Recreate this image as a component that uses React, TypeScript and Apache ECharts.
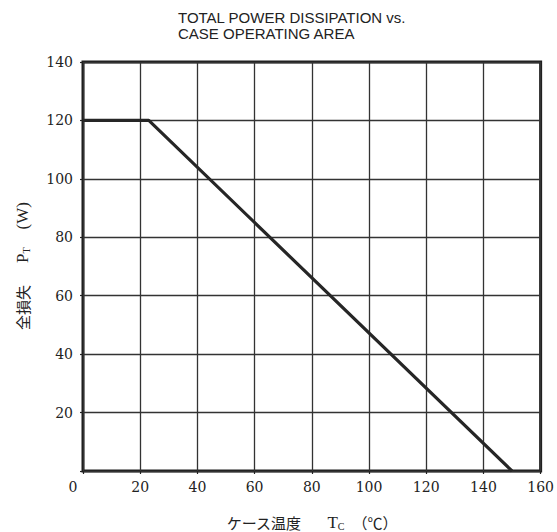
import React, { useEffect, useRef } from "react";
import * as echarts from "echarts";

const titleLines = ["TOTAL POWER DISSIPATION vs.", "CASE OPERATING AREA"];
const caseTempC = [0, 23, 150];
const powerW = [120, 120, 0];
const xTickValues = [0, 20, 40, 60, 80, 100, 120, 140, 160];
const yTickValues = [0, 20, 40, 60, 80, 100, 120, 140];

const SERIF = "DejaVu Serif";
const LSERIF = "Liberation Serif";
const CJK = "Noto Sans CJK JP";
const INK = "#222";

export default function App() {
  const ref = useRef<HTMLDivElement>(null);
  useEffect(() => {
    if (!ref.current) return;
    const chart = echarts.init(ref.current, null, { renderer: "svg" });
    const grid = { left: 83, top: 62, width: 460, height: 409 };
    const nameRich = {
      j: { fontFamily: CJK, fontSize: 15, fill: INK, color: INK, fontWeight: "normal" },
      p: { fontFamily: LSERIF, fontSize: 17, fill: INK, color: INK, padding: [0, 0, 0, 22] },
      s: { fontFamily: LSERIF, fontSize: 10, fill: INK, color: INK, padding: [8, 0, 0, 0] },
      w: { fontFamily: LSERIF, fontSize: 17, fill: INK, color: INK, padding: [0, 0, 0, 18] },
      c: { fontFamily: CJK, fontSize: 15, fill: INK, color: INK, fontWeight: "normal", padding: [0, 0, 0, 8] },
    };
    chart.setOption({
      animation: false,
      backgroundColor: "#fff",
      title: {
        text: titleLines.join("\n"),
        left: 173,
        top: 4,
        textStyle: {
          fontFamily: "Liberation Sans",
          fontSize: 15,
          fontWeight: "normal",
          color: INK,
          lineHeight: 16,
        },
      },
      grid: { ...grid, show: true, borderWidth: 3, borderColor: "#1e1e1e", containLabel: false },
      xAxis: {
        type: "value",
        min: xTickValues[0],
        max: xTickValues[xTickValues.length - 1],
        interval: 20,
        axisLine: { show: false },
        axisTick: { show: true, inside: false, length: 3, lineStyle: { color: INK, width: 1.2 } },
        splitLine: { show: true, lineStyle: { color: "#333", width: 1.3 } },
        axisLabel: {
          margin: 9,
          fontFamily: SERIF,
          fontSize: 14,
          color: INK,
          formatter: (v: number) => (v === 0 ? "{z|0}" : String(v)),
          rich: { z: { fontFamily: SERIF, fontSize: 14, color: INK, padding: [0, 20, 0, 0] } },
        },
      },
      yAxis: {
        type: "value",
        min: yTickValues[0],
        max: yTickValues[yTickValues.length - 1],
        interval: 20,
        axisLine: { show: false },
        axisTick: { show: true, inside: false, length: 3, lineStyle: { color: INK, width: 1.2 } },
        splitLine: { show: true, lineStyle: { color: "#333", width: 1.3 } },
        axisLabel: {
          margin: 10,
          fontFamily: SERIF,
          fontSize: 14,
          color: INK,
          formatter: (v: number) => (v === 0 ? "" : String(v)),
        },
      },
      graphic: [
        {
          type: "text",
          x: 22,
          y: 266,
          rotation: Math.PI / 2,
          style: {
            text: "{j|全損失}{p|P}{s|T}{w|(W)}",
            align: "center",
            verticalAlign: "middle",
            rich: nameRich,
          },
        },
        {
          type: "text",
          x: 312,
          y: 522,
          style: {
            text: "{j|ケース温度}{p|T}{s|C}{c|（℃）}",
            align: "center",
            verticalAlign: "middle",
            rich: { ...nameRich, p: { ...nameRich.p, padding: [0, 0, 0, 26] } },
          },
        },
      ],
      series: [
        {
          type: "line",
          data: caseTempC.map((x, i) => [x, powerW[i]]),
          symbol: "none",
          lineStyle: { color: "#262626", width: 3.2 },
          clip: false,
        },
      ],
    });
    return () => chart.dispose();
  }, []);
  return (
    <div
      ref={ref}
      style={{ position: "fixed", left: 0, top: 0, width: 557, height: 532, background: "#fff" }}
    />
  );
}
